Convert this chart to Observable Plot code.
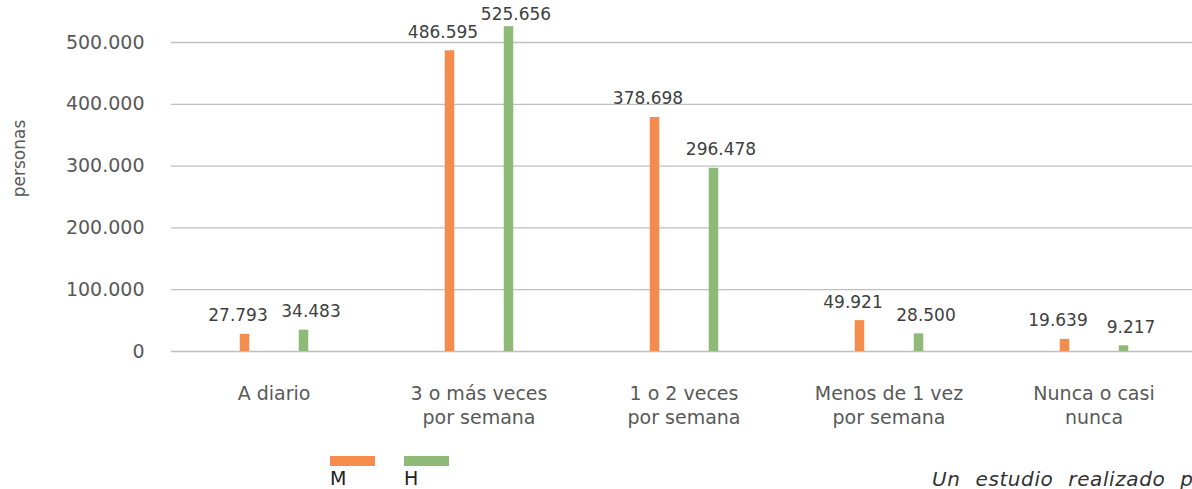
<!DOCTYPE html>
<html>
<head>
<meta charset="utf-8">
<script src="https://cdn.jsdelivr.net/npm/d3@7"></script>
<script src="https://cdn.jsdelivr.net/npm/@observablehq/plot@0.6"></script>
<style>
  html, body { margin: 0; padding: 0; background: #fff; overflow: hidden; }
  #wrap { width: 1192px; height: 489px; position: relative; overflow: hidden; font-family: 'DejaVu Sans', sans-serif; }
  #chart svg { display: block; }
  #legend { position: relative; width: 1192px; height: 49px; }
  .sw { position: absolute; top: 16px; width: 45px; height: 10px; }
  .lab { position: absolute; top: 29px; font-size: 19px; line-height: 1; color: #222; }
  #note { position: absolute; top: 29px; left: 932px; font-size: 20px; line-height: 1; font-style: italic; color: #333; white-space: nowrap; word-spacing: 8px; letter-spacing: 0.6px; }
</style>
</head>
<body>
<div id="wrap">
  <div id="chart"></div>
  <div id="legend"></div>
</div>
<script>
const categories = ["A diario", "3 o más veces por semana", "1 o 2 veces por semana", "Menos de 1 vez por semana", "Nunca o casi nunca"];
const tickLabels = ["A diario", "3 o más veces\npor semana", "1 o 2 veces\npor semana", "Menos de 1 vez\npor semana", "Nunca o casi\nnunca"];
const seriesNames = ["M", "H"];
const valuesM = [27793, 486595, 378698, 49921, 19639];
const valuesH = [34483, 525656, 296478, 28500, 9217];
const yTicks = [0, 100000, 200000, 300000, 400000, 500000];
const yLabel = "personas";
const noteText = "Un estudio realizado p";
const colors = {M: "#F58B4C", H: "#8EBA78"};

const fmt = v => d3.format(",")(v).replace(/,/g, ".");
const rowsM = categories.map((c, i) => ({cat: c, value: valuesM[i], serie: "M"}));
const rowsH = categories.map((c, i) => ({cat: c, value: valuesH[i], serie: "H"}));
// data labels are kept inside the visible area (as the source chart does)
const labelY = d => Math.min(d.value, yTicks[yTicks.length - 1] * 1.03);

const chart = Plot.plot({
  width: 1192,
  height: 440,
  marginLeft: 171,
  marginRight: 0,
  marginTop: 0,
  marginBottom: 89,
  style: {fontFamily: "'DejaVu Sans', sans-serif", background: "white", overflow: "visible"},
  x: {type: "band", domain: categories, range: [171, 1196], padding: 0},
  y: {domain: [0, 500000], range: [351, 42]},
  marks: [
    Plot.ruleY(yTicks, {stroke: "#BFBFBF", strokeWidth: 1.3}),
    Plot.barY(rowsM, {x: "cat", y: "value", fill: colors.M, insetLeft: 68.75, insetRight: 126.75}),
    Plot.barY(rowsH, {x: "cat", y: "value", fill: colors.H, insetLeft: 127.75, insetRight: 67.75}),
    Plot.text(rowsM, {x: "cat", y: labelY, text: d => fmt(d.value), dx: -36, dy: -13, lineAnchor: "bottom", fontSize: 17, fill: "#404040"}),
    Plot.text(rowsH, {x: "cat", y: labelY, text: d => fmt(d.value), dx: 37, dy: -13, lineAnchor: "bottom", fontSize: 17, fill: "#404040"}),
    Plot.axisX({tickSize: 0, tickPadding: 32, tickFormat: d => tickLabels[categories.indexOf(d)], fontSize: 19, lineHeight: 1.25, label: null, color: "#595959"}),
    Plot.axisY({ticks: yTicks, tickSize: 0, tickPadding: 27, tickFormat: fmt, fontSize: 19, label: null, color: "#595959"}),
    Plot.text([yLabel], {text: d => d, frameAnchor: "left", textAnchor: "middle", rotate: -90, dx: -152, dy: -17.5, fontSize: 17, fill: "#595959"})
  ]
});
document.getElementById("chart").appendChild(chart);

const legend = document.getElementById("legend");
const swLeft = {M: 330, H: 404};
seriesNames.forEach(s => {
  const sw = document.createElement("div");
  sw.className = "sw";
  sw.style.left = swLeft[s] + "px";
  sw.style.background = colors[s];
  legend.appendChild(sw);
  const lab = document.createElement("div");
  lab.className = "lab";
  lab.style.left = swLeft[s] + "px";
  lab.textContent = s;
  legend.appendChild(lab);
});
const note = document.createElement("div");
note.id = "note";
note.textContent = noteText;
legend.appendChild(note);
</script>
</body>
</html>
